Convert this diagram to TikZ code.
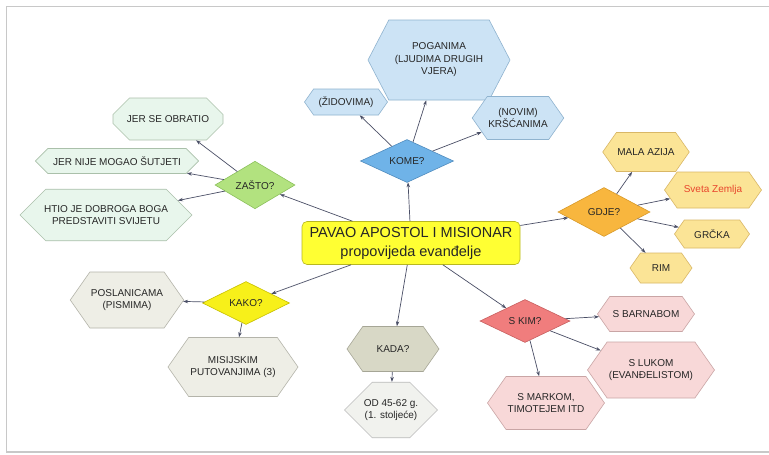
\documentclass[tikz,border=0pt]{standalone}
\usepackage{fontspec}
\setmainfont{Liberation Sans}
\usetikzlibrary{shapes.geometric,shapes.symbols,shapes.misc,arrows.meta}
\definecolor{txt}{HTML}{262626}
\definecolor{edgec}{HTML}{4A4F66}
\tikzset{
  x=1pt,y=-1pt,
  base/.style={draw, line width=0.6pt, text=txt, font=\fontsize{10}{12.5}\selectfont, align=center, inner sep=1pt},
  dia/.style={base, diamond, inner sep=0pt},
  hexa/.style={base, signal, signal to=east and west, signal pointer angle=110},
  octa/.style={base, chamfered rectangle, chamfered rectangle corners=all},
  conn/.style={draw=edgec, line width=0.7pt, -{Stealth[length=5pt,width=3.5pt]}},
}
\begin{document}
\begin{tikzpicture}
\useasboundingbox (0,0) rectangle (769,455);
\fill[white] (0,0) rectangle (769,455);
\draw[line width=1.5pt, draw={rgb,255:red,200;green,200;blue,200}] (769,6.5) -- (6.5,6.5) -- (6.5,452) -- (769,452);

% centre
\node[base, rectangle, rounded corners=5pt, fill={rgb,255:red,255;green,255;blue,51}, draw={rgb,255:red,184;green,184;blue,32},
  minimum width=218, minimum height=43, font=\fontsize{14.5}{19}\selectfont] (c) at (411,243)
  {PAVAO APOSTOL I MISIONAR\\propovijeda evanđelje};

% KOME
\node[dia, fill={rgb,255:red,111;green,179;blue,232}, draw={rgb,255:red,80;green,140;blue,190}, minimum width=93, minimum height=43] (kome) at (407,161) {KOME?};
\node[hexa, fill={rgb,255:red,204;green,227;blue,245}, draw={rgb,255:red,143;green,179;blue,207}, minimum width=142, minimum height=80, signal pointer angle=125] (pog) at (439,60) {POGANIMA\\(LJUDIMA DRUGIH\\VJERA)};
\node[hexa, fill={rgb,255:red,204;green,227;blue,245}, draw={rgb,255:red,143;green,179;blue,207}, minimum width=83, minimum height=26] (zid) at (346,102) {(ŽIDOVIMA)};
\node[hexa, fill={rgb,255:red,204;green,227;blue,245}, draw={rgb,255:red,143;green,179;blue,207}, minimum width=82, minimum height=43] (novi) at (518,118) {(NOVIM)\\KRŠĆANIMA};

% ZAŠTO
\node[dia, fill={rgb,255:red,178;green,226;blue,127}, draw={rgb,255:red,140;green,192;blue,92}, minimum width=80, minimum height=44] (zasto) at (255,185) {ZAŠTO?};
\node[octa, fill={rgb,255:red,232;green,246;blue,236}, draw={rgb,255:red,170;green,192;blue,170}, minimum width=110, minimum height=42, chamfered rectangle xsep=14pt, chamfered rectangle ysep=12pt] (jso) at (168,119) {JER SE OBRATIO};
\node[octa, fill={rgb,255:red,232;green,246;blue,236}, draw={rgb,255:red,170;green,192;blue,170}, minimum width=163, minimum height=25, chamfered rectangle xsep=12pt, chamfered rectangle ysep=7pt] (jnm) at (117,161) {JER NIJE MOGAO ŠUTJETI};
\node[octa, fill={rgb,255:red,232;green,246;blue,236}, draw={rgb,255:red,170;green,192;blue,170}, minimum width=172, minimum height=50, chamfered rectangle xsep=22pt, chamfered rectangle ysep=15pt] (htio) at (106,215) {HTIO JE DOBROGA BOGA\\PREDSTAVITI SVIJETU};

% GDJE
\node[dia, fill={rgb,255:red,248;green,182;blue,62}, draw={rgb,255:red,216;green,154;blue,42}, minimum width=92, minimum height=49] (gdje) at (604,212) {GDJE?};
\node[hexa, fill={rgb,255:red,251;green,228;blue,150}, draw={rgb,255:red,217;green,183;blue,102}, minimum width=83, minimum height=39] (mala) at (646,152) {MALA AZIJA};
\node[hexa, fill={rgb,255:red,251;green,228;blue,150}, draw={rgb,255:red,217;green,183;blue,102}, minimum width=97, minimum height=36, text={rgb,255:red,232;green,69;blue,44}] (sveta) at (713,190) {Sveta Zemlja};
\node[hexa, fill={rgb,255:red,251;green,228;blue,150}, draw={rgb,255:red,217;green,183;blue,102}, minimum width=75, minimum height=28] (grcka) at (712,234) {GRČKA};
\node[hexa, fill={rgb,255:red,251;green,228;blue,150}, draw={rgb,255:red,217;green,183;blue,102}, minimum width=62, minimum height=30] (rim) at (661,268) {RIM};

% KAKO
\node[dia, fill={rgb,255:red,247;green,240;blue,26}, draw={rgb,255:red,200;green,192;blue,0}, minimum width=87, minimum height=43] (kako) at (246,303) {KAKO?};
\node[hexa, fill={rgb,255:red,238;green,238;blue,230}, draw={rgb,255:red,180;green,180;blue,170}, minimum width=110, minimum height=56] (posl) at (127,300) {POSLANICAMA\\(PISMIMA)};
\node[hexa, fill={rgb,255:red,238;green,238;blue,230}, draw={rgb,255:red,180;green,180;blue,170}, minimum width=130, minimum height=59] (misi) at (233,367) {MISIJSKIM\\PUTOVANJIMA (3)};

% KADA
\node[hexa, fill={rgb,255:red,216;green,216;blue,198}, draw={rgb,255:red,166;green,166;blue,150}, minimum width=92, minimum height=45] (kada) at (393,349) {KADA?};
\node[octa, fill={rgb,255:red,241;green,242;blue,238}, draw={rgb,255:red,187;green,187;blue,187}, minimum width=93, minimum height=44, chamfered rectangle xsep=14pt, chamfered rectangle ysep=16pt] (od) at (391,410) {OD 45-62 g.\\(1. stoljeće)};

% S KIM
\node[dia, fill={rgb,255:red,240;green,125;blue,125}, draw={rgb,255:red,200;green,96;blue,96}, minimum width=90, minimum height=43] (skim) at (525,321) {S KIM?};
\node[hexa, fill={rgb,255:red,248;green,216;blue,216}, draw={rgb,255:red,201;green,165;blue,165}, minimum width=97, minimum height=35] (barn) at (646,314) {S BARNABOM};
\node[hexa, fill={rgb,255:red,248;green,216;blue,216}, draw={rgb,255:red,201;green,165;blue,165}, minimum width=127, minimum height=56] (luk) at (651,370) {S LUKOM\\(EVANĐELISTOM)};
\node[hexa, fill={rgb,255:red,248;green,216;blue,216}, draw={rgb,255:red,201;green,165;blue,165}, minimum width=117, minimum height=53] (mark) at (546,403) {S MARKOM,\\TIMOTEJEM ITD};

% connectors
\draw[conn] (c) -- (kome);
\draw[conn] (kome) -- (zid);
\draw[conn] (kome) -- (pog);
\draw[conn] (kome) -- (novi);
\draw[conn] (c) -- (zasto);
\draw[conn] (zasto) -- (jso);
\draw[conn] (zasto) -- (jnm);
\draw[conn] (zasto) -- (htio);
\draw[conn] (c) -- (gdje);
\draw[conn] (gdje) -- (mala);
\draw[conn] (gdje) -- (sveta);
\draw[conn] (gdje) -- (grcka);
\draw[conn] (gdje) -- (rim);
\draw[conn] (c) -- (kako);
\draw[conn] (kako) -- (posl);
\draw[conn] (kako) -- (misi);
\draw[conn] (c) -- (kada);
\draw[conn] (kada) -- (od);
\draw[conn] (c) -- (skim);
\draw[conn] (skim) -- (barn);
\draw[conn] (skim) -- (luk);
\draw[conn] (skim) -- (mark);
\end{tikzpicture}
\end{document}
